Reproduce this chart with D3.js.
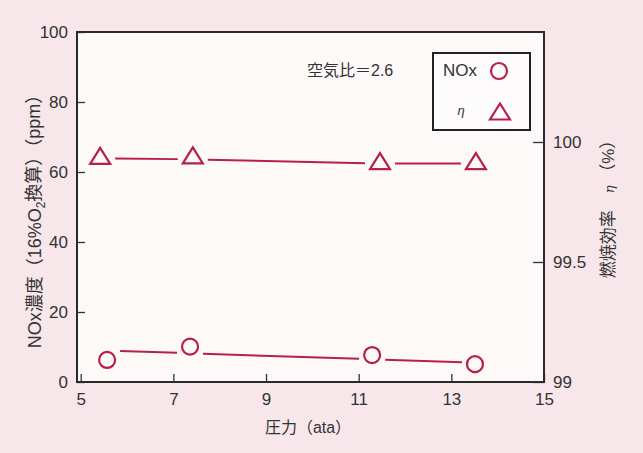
<!DOCTYPE html>
<html>
<head>
<meta charset="utf-8">
<script src="https://cdn.jsdelivr.net/npm/d3@7"></script>
<style>
  html, body { margin: 0; padding: 0; background: #f7e7eb; }
  svg { display: block; }
  text { fill: #333; font-family: "Liberation Sans", Arial, "Noto Sans CJK JP", sans-serif; }
  .jp { font-family: "Liberation Sans", "Noto Sans CJK JP", sans-serif; }
</style>
</head>
<body>
<svg id="chart" width="643" height="453"></svg>
<script>
// Pressure (ata) of each measurement, per series
const noxPressure = [5.57, 7.36, 11.29, 13.51];
const etaPressure = [5.42, 7.42, 11.46, 13.53];
// NOx concentration (ppm, 16% O2 basis) and combustion efficiency η (%)
const noxValues = [6.3, 10.1, 7.7, 5.1];
const etaValues = [99.932, 99.934, 99.91, 99.91];
// Fitted trend values at the same pressures
const noxFit = [9.0, 8.2, 6.5, 5.5];
const etaFit = [99.932, 99.928, 99.91, 99.91];

const xTicks = [5, 7, 9, 11, 13, 15];
const yLeftTicks = [0, 20, 40, 60, 80, 100];
const yRightTicks = [99, 99.5, 100];
const yRightLabels = ["99", "99.5", "100"];

const RED = "#b51f48";
const svg = d3.select("#chart");

const x = d3.scaleLinear().domain([4.92, 15]).range([77, 544]);
const yL = d3.scaleLinear().domain([0, 100]).range([382, 32]);
const yR = d3.scaleLinear().domain([99, 100]).range([382, 142]);

// plot area
svg.append("rect")
  .attr("x", x(4.92)).attr("y", yL(100))
  .attr("width", x(15) - x(4.92)).attr("height", yL(0) - yL(100))
  .attr("fill", "#fdf9f9");

// axes with inward ticks
const gx = svg.append("g").attr("transform", `translate(0,${yL(0)})`)
  .call(d3.axisBottom(x).tickValues(xTicks).tickSize(-8).tickPadding(8).tickFormat(d3.format("d")));
const gl = svg.append("g").attr("transform", `translate(${x(4.92)},0)`)
  .call(d3.axisLeft(yL).tickValues(yLeftTicks).tickSize(-8).tickPadding(9).tickFormat(d3.format("d")));
const gr = svg.append("g").attr("transform", `translate(${x(15)},0)`)
  .call(d3.axisRight(yR).tickValues(yRightTicks).tickSize(-11).tickPadding(9)
    .tickFormat((d, i) => yRightLabels[i]));
[gx, gl, gr].forEach(g => {
  g.select(".domain").remove();
  g.selectAll(".tick line").attr("stroke", "#333").attr("stroke-width", 1.3);
  g.selectAll(".tick text").attr("font-size", 17).attr("fill", "#333")
    .attr("font-family", "'Liberation Sans', Arial, sans-serif");
});
gx.selectAll(".tick text").attr("dy", "0.9em");

// frame
svg.append("rect")
  .attr("x", x(4.92)).attr("y", yL(100))
  .attr("width", x(15) - x(4.92)).attr("height", yL(0) - yL(100))
  .attr("fill", "none").attr("stroke", "#2a2a2a").attr("stroke-width", 2);

// trend segments between markers, leaving a gap round each marker
function trendSegments(xs, ys, yScale, gap) {
  const pts = xs.map((p, i) => [x(p), yScale(ys[i])]);
  const segs = [];
  for (let i = 0; i < pts.length - 1; i++) {
    const [x0, y0] = pts[i], [x1, y1] = pts[i + 1];
    const len = Math.hypot(x1 - x0, y1 - y0);
    const ux = (x1 - x0) / len, uy = (y1 - y0) / len;
    segs.push([[x0 + ux * gap, y0 + uy * gap], [x1 - ux * gap, y1 - uy * gap]]);
  }
  return segs;
}
const line = d3.line();
svg.append("g").selectAll("path")
  .data(trendSegments(noxPressure, noxFit, yL, 13))
  .join("path").attr("d", line)
  .attr("fill", "none").attr("stroke", RED).attr("stroke-width", 2);
svg.append("g").selectAll("path")
  .data(trendSegments(etaPressure, etaFit, yR, 15))
  .join("path").attr("d", line)
  .attr("fill", "none").attr("stroke", RED).attr("stroke-width", 2);

// markers
const triPath = "M0,-10.5L10,5.5L-10,5.5Z";
svg.append("g").selectAll("circle")
  .data(noxValues)
  .join("circle")
  .attr("cx", (d, i) => x(noxPressure[i])).attr("cy", d => yL(d))
  .attr("r", 8).attr("fill", "none").attr("stroke", RED).attr("stroke-width", 2.2);
svg.append("g").selectAll("path")
  .data(etaValues)
  .join("path")
  .attr("transform", (d, i) => `translate(${x(etaPressure[i])},${yR(d)})`)
  .attr("d", triPath).attr("fill", "none").attr("stroke", RED).attr("stroke-width", 2.2)
  .attr("stroke-linejoin", "miter");

// annotation
svg.append("text").attr("class", "jp")
  .attr("x", 307).attr("y", 70).attr("dy", "0.35em")
  .attr("font-size", 16).text("空気比＝2.6");

// legend
const lg = svg.append("g");
lg.append("rect").attr("x", 433).attr("y", 53).attr("width", 97).attr("height", 77)
  .attr("fill", "#fdfbfb").attr("stroke", "#222").attr("stroke-width", 2);
lg.append("text").attr("x", 443).attr("y", 70).attr("dy", "0.35em")
  .attr("font-size", 17).text("NOx");
lg.append("circle").attr("cx", 499).attr("cy", 71).attr("r", 8)
  .attr("fill", "none").attr("stroke", RED).attr("stroke-width", 2.2);
lg.append("text").attr("x", 461).attr("y", 110).attr("dy", "0.35em")
  .attr("text-anchor", "middle").attr("font-size", 13).attr("font-style", "italic")
  .attr("font-family", "'DejaVu Serif', serif").text("η");
lg.append("path").attr("transform", "translate(500,114)").attr("d", triPath)
  .attr("fill", "none").attr("stroke", RED).attr("stroke-width", 2.2);

// axis titles
svg.append("text").attr("class", "jp")
  .attr("x", 308).attr("y", 427).attr("dy", "0.35em")
  .attr("text-anchor", "middle").attr("font-size", 16).text("圧力（ata）");

const lt = svg.append("text").attr("class", "jp")
  .attr("transform", "translate(35,217) rotate(-90)")
  .attr("text-anchor", "middle").attr("dy", "0.35em").attr("font-size", 18);
lt.append("tspan").text("NOx濃度（16%O");
lt.append("tspan").attr("font-size", 12).attr("dy", "0.3em").text("2");
lt.append("tspan").attr("dy", "-0.3em").text("換算）（ppm）");

const rt = svg.append("text").attr("class", "jp")
  .attr("transform", "translate(608,205) rotate(-90)")
  .attr("text-anchor", "middle").attr("dy", "0.35em").attr("font-size", 17);
rt.append("tspan").text("燃焼効率　");
rt.append("tspan").attr("font-style", "italic").attr("font-size", 13)
  .attr("font-family", "'DejaVu Serif', serif").text("η");
rt.append("tspan").text(" （%）");
</script>
</body>
</html>
